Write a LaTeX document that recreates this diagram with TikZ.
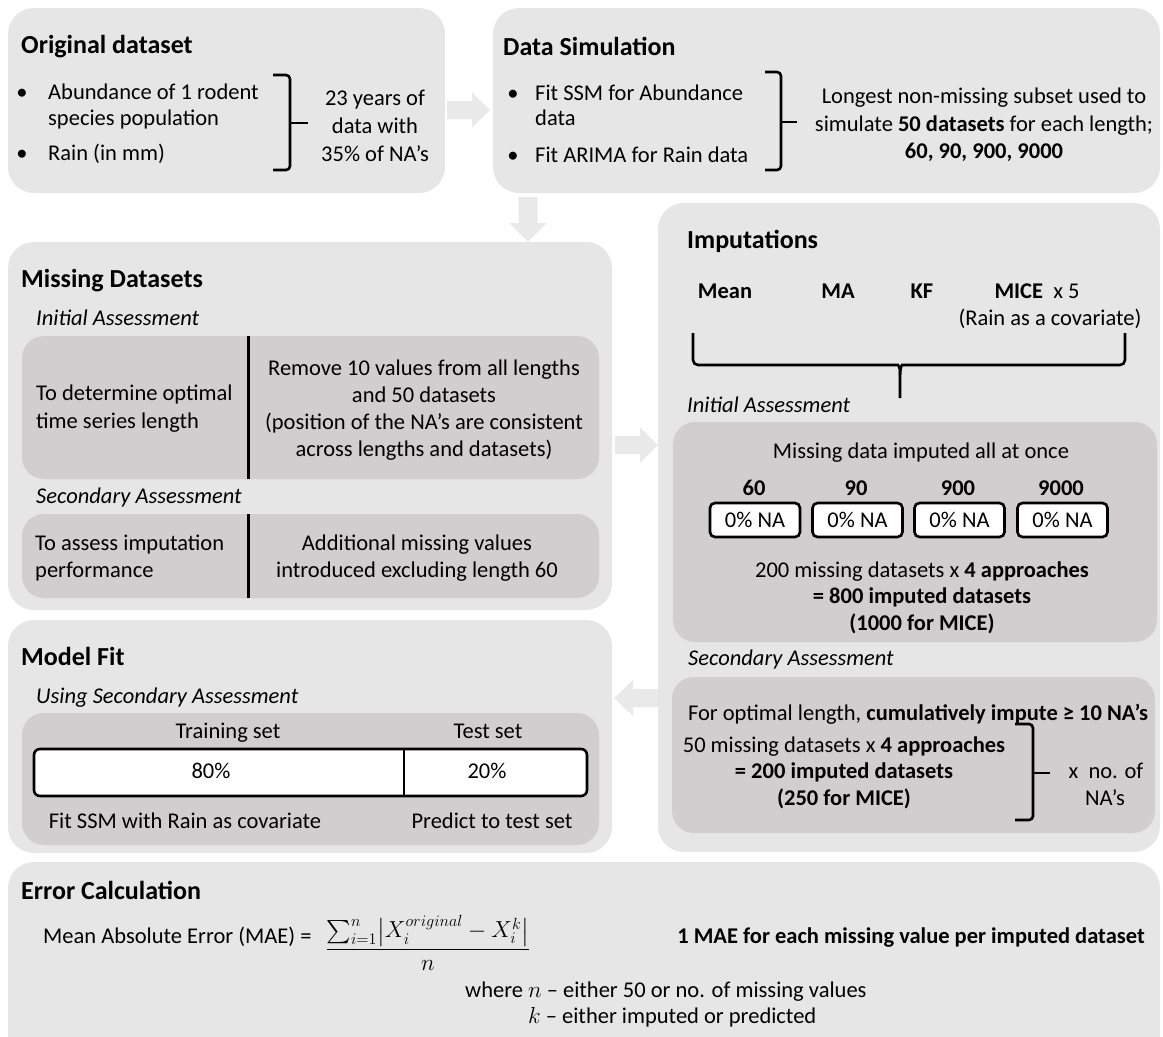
\documentclass[tikz,border=0pt]{standalone}
\usepackage{amsmath}
\usepackage{graphicx}
\usepackage{fontspec}
\setmainfont{Carlito}
\usetikzlibrary{calc,fit}
\definecolor{outerg}{HTML}{E6E6E6}
\definecolor{innerg}{HTML}{D0CECE}
\definecolor{arrg}{HTML}{E9E9E9}
\newcommand\myBody{\fontsize{22.5}{27}\selectfont}
\newcommand\myTitle{\fontsize{26}{30}\selectfont\bfseries}
\newcommand\myMath[1]{{\fontsize{20.74}{25}\selectfont\scalebox{1.12}{$#1$}}}
\begin{document}
\begin{tikzpicture}[x=1pt,y=-1pt,
  outer/.style={fill=outerg, rounded corners=26pt, inner sep=0pt},
  innerbx/.style={fill=innerg, rounded corners=22pt, inner sep=0pt},
  ttl/.style={font=\myTitle, anchor=base west, inner sep=0pt},
  txt/.style={font=\myBody, anchor=base, inner sep=0pt},
  txtl/.style={txt, anchor=base west},
  txtr/.style={txt, anchor=base east},
  bld/.style={txt, font=\myBody\bfseries},
  subttl/.style={txtl, font=\myBody\itshape},
  brace/.style={draw, line width=2.6pt, rounded corners=4pt},
  tipline/.style={draw, line width=2.6pt},
  divider/.style={draw, line width=3pt},
  nabox/.style={draw, fill=white, line width=2.6pt, rounded corners=5pt, minimum width=90pt, minimum height=34pt, inner sep=0pt, font=\myBody},
  blockarrow/.style={fill=arrg}
]
\useasboundingbox (0,0) rectangle (1163,1037);
\clip (0,0) rectangle (1163,1037);

% ---------- outer boxes ----------
\node[outer, fit={(8,8) (445,193)}] (orig) {};
\node[outer, fit={(493,8) (1160,193)}] (sim) {};
\node[outer, fit={(8,242) (612,610)}] (miss) {};
\node[outer, fit={(658,203) (1160,852)}] (imp) {};
\node[outer, fit={(8,620) (612,853)}] (mfit) {};
\node[outer, fit={(8,862) (1160,1080)}] (err) {};

% ---------- block arrows ----------
\fill[blockarrow] (447,101) -- (472,101) -- (472,92.5) -- (490,110) -- (472,127.5) -- (472,119) -- (447,119) -- cycle;
\fill[blockarrow] (518.5,197) -- (537.5,197) -- (537.5,223) -- (546.5,223) -- (528,242) -- (509.5,223) -- (518.5,223) -- cycle;
\fill[blockarrow] (615,436) -- (640,436) -- (640,427) -- (658,445) -- (640,463) -- (640,454) -- (615,454) -- cycle;
\fill[blockarrow] (658,689) -- (633,689) -- (633,680) -- (614,698) -- (633,716) -- (633,707) -- (658,707) -- cycle;

% ---------- Original dataset ----------
\node[ttl] (ot) at (21,53) {Original dataset};
\node[txt] (ob1) at (22,99) {\textbullet};
\node[txtl] (o1) at (48,99) {Abundance of 1 rodent};
\node[txtl] (o2) at (48,125) {species population};
\node[txt] (ob2) at (22,160) {\textbullet};
\node[txtl] (o3) at (48,160) {Rain (in mm)};
\draw[brace] (273,75) -- (290,75) -- (290,170) -- (273,170);
\draw[tipline] (290,123) -- (308,123);
\node[txt] (o4) at (375,105) {23 years of};
\node[txt] (o5) at (375,133) {data with};
\node[txt] (o6) at (375,161) {35\% of NA’s};

% ---------- Data Simulation ----------
\node[ttl] (st) at (503,55) {Data Simulation};
\node[txt] (sb1) at (513,100) {\textbullet};
\node[txtl] (s1) at (535,100) {Fit SSM for Abundance};
\node[txtl] (s2) at (535,125) {data};
\node[txt] (sb2) at (513,162) {\textbullet};
\node[txtl] (s3) at (535,162) {Fit ARIMA for Rain data};
\draw[brace] (765,72) -- (781,72) -- (781,170) -- (765,170);
\draw[tipline] (781,122) -- (797,122);
\node[txt] (s4) at (984,103) {Longest non-missing subset used to};
\node[txt] (s5) at (984,131) {simulate \textbf{50 datasets} for each length;};
\node[bld] (s6) at (984,158) {60, 90, 900, 9000};

% ---------- Missing Datasets ----------
\node[ttl] (mt) at (21,287) {Missing Datasets};
\node[subttl] (mia) at (36,325) {Initial Assessment};
\node[innerbx, fit={(22,336) (599,479)}] (ia) {};
\draw[divider] ($(ia.north west)+(227,0)$) -- ($(ia.south west)+(227,0)$);
\node[txtl] (m1) at (36,400) {To determine optimal};
\node[txtl] (m2) at (36,428) {time series length};
\node[txt] (m3) at (424,375) {Remove 10 values from all lengths};
\node[txt] (m4) at (424,402) {and 50 datasets};
\node[txt] (m5) at (424,429) {(position of the NA’s are consistent};
\node[txt] (m6) at (424,456) {across lengths and datasets)};
\node[subttl] (msa) at (36,503) {Secondary Assessment};
\node[innerbx, fit={(22,514) (599,598)}] (sa) {};
\draw[divider] ($(sa.north west)+(227,0)$) -- ($(sa.south west)+(227,0)$);
\node[txtl] (m7) at (35,550) {To assess imputation};
\node[txtl] (m8) at (35,577) {performance};
\node[txt] (m9) at (417,550) {Additional missing values};
\node[txt] (m10) at (417,577) {introduced excluding length 60};

% ---------- Imputations ----------
\node[ttl] (it) at (687,248) {Imputations};
\node[bld] (i1) at (725,298) {Mean};
\node[bld] (i2) at (838,298) {MA};
\node[bld] (i3) at (922,298) {KF};
\node[txt] (i4) at (1037,298) {\textbf{MICE}\ \ x 5};
\node[txt] (i5) at (1050,325) {(Rain as a covariate)};
\draw[brace, rounded corners=5pt] (693,333) -- (693,365) -- (893,365) .. controls (898,365) and (900,368) .. (900,375) -- (900,398);
\draw[brace, rounded corners=5pt] (1125,333) -- (1125,365) -- (907,365) .. controls (902,365) and (900,368) .. (900,375);
\node[subttl] (iil) at (687,412) {Initial Assessment};
\node[innerbx, fit={(673,422) (1157,642)}] (iia) {};
\node[txt] (i6) at (921,458) {Missing data imputed all at once};
\node[bld] (l1) at (754,495) {60};
\node[bld] (l2) at (856,495) {90};
\node[bld] (l3) at (958,495) {900};
\node[bld] (l4) at (1061,495) {9000};
\node[nabox] (n1) at (755,520) {0\% NA};
\node[nabox] (n2) at (857.5,520) {0\% NA};
\node[nabox] (n3) at (959.5,520) {0\% NA};
\node[nabox] (n4) at (1062.5,520) {0\% NA};
\node[txt] (i7) at (922,577) {200 missing datasets x \textbf{4 approaches}};
\node[bld] (i8) at (922,603) {= 800 imputed datasets};
\node[bld] (i9) at (922,630) {(1000 for MICE)};
\node[subttl] (isl) at (688,665) {Secondary Assessment};
\node[innerbx, fit={(672,677) (1155,833)}] (isa) {};
\node[txt] (i10) at (918,720) {For optimal length, \textbf{cumulatively impute ≥ 10 NA’s}};
\node[txt] (i11) at (844,752) {50 missing datasets x \textbf{4 approaches}};
\node[bld] (i12) at (844,778) {= 200 imputed datasets};
\node[bld] (i13) at (844,805) {(250 for MICE)};
\draw[brace] (1015,724) -- (1033,724) -- (1033,820) -- (1015,820);
\draw[tipline] (1033,773) -- (1050,773);
\node[txt] (i14) at (1106,778) {x\ \ no. of};
\node[txt] (i15) at (1105,805) {NA’s};

% ---------- Model Fit ----------
\node[ttl] (ft) at (21,665) {Model Fit};
\node[subttl] (fsl) at (36,703) {Using Secondary Assessment};
\node[innerbx, fit={(22,713) (599,845)}] (mfi) {};
\node[txt] (f1) at (228,738) {Training set};
\node[txt] (f2) at (488,738) {Test set};
\node[draw, fill=white, line width=2.6pt, rounded corners=6pt, inner sep=0pt, fit={(34,749) (587,796)}] (bar) {};
\draw[line width=1.8pt] ($(bar.north west)+(371,0)$) -- ($(bar.south west)+(371,0)$);
\node[txt] (f3) at (211,778) {80\%};
\node[txt] (f4) at (487,778) {20\%};
\node[txt] (f5) at (185,828) {Fit SSM with Rain as covariate};
\node[txt] (f6) at (492,828) {Predict to test set};

% ---------- Error Calculation ----------
\node[ttl] (et) at (21,899) {Error Calculation};
\node[txtl] (e1) at (43,943) {Mean Absolute Error (MAE) =};
\node[txtl] (e2) at (325,955) {\myMath{\dfrac{\textstyle\sum_{i=1}^{n}\bigl|X_i^{original}-X_i^{k}\bigr|}{n}}};
\node[txtr] (e3) at (1145,943) {\bfseries 1 MAE for each missing value per imputed dataset};
\node[txtl] (e4) at (465,997) {where \myMath{n} – either 50 or no. of missing values};
\node[txtl] (e5) at (465,1023) {\phantom{where }\myMath{k} – either imputed or predicted};
\end{tikzpicture}
\end{document}
